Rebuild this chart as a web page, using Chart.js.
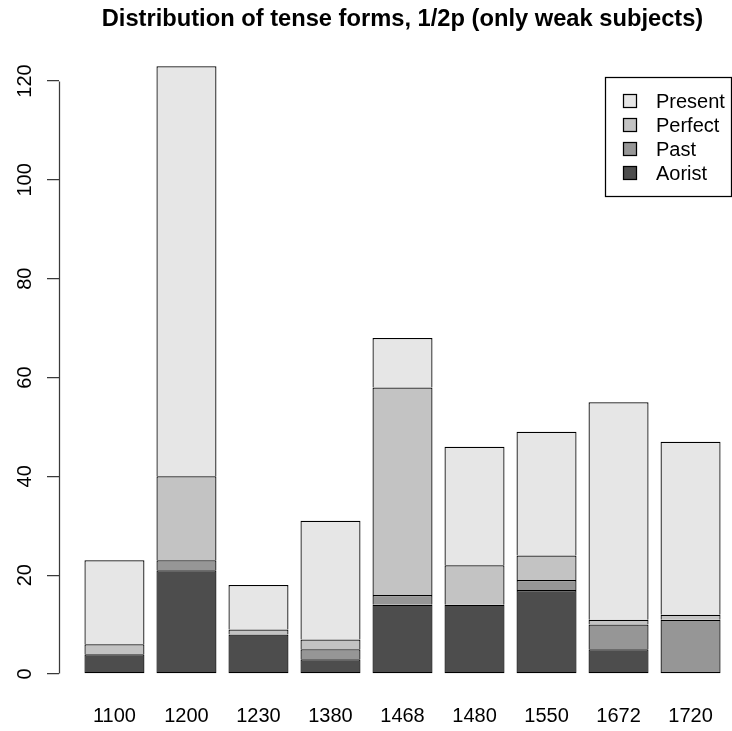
<!DOCTYPE html>
<html>
<head>
<meta charset="utf-8">
<script src="https://cdn.jsdelivr.net/npm/chart.js@4/dist/chart.umd.min.js"></script>
<style>
  html, body { margin: 0; padding: 0; background: #fff; overflow: hidden; }
  #wrap { width: 732px; height: 731px; overflow: hidden; position: relative; }
  #chart { position: absolute; left: 0; top: 0; }
</style>
</head>
<body>
<div id="wrap"><canvas id="chart" width="746" height="731"></canvas></div>
<script>
// Tense counts per period, stacked from the bottom up
const years   = ['1100', '1200', '1230', '1380', '1468', '1480', '1550', '1672', '1720'];
const aorist  = [4, 21, 8, 3, 14, 14, 17, 5, 0];
const past    = [0, 2, 0, 2, 2, 0, 2, 5, 11];
const perfect = [2, 17, 1, 2, 42, 8, 5, 1, 1];
const present = [17, 83, 9, 24, 10, 24, 25, 44, 35];

const seriesNames  = ['Aorist', 'Past', 'Perfect', 'Present'];
const seriesValues = [aorist, past, perfect, present];
const seriesColors = ['#4D4D4D', '#969696', '#C3C3C3', '#E6E6E6'];
const yTicks = [0, 20, 40, 60, 80, 100, 120];
const titleText = 'Distribution of tense forms, 1/2p (only weak subjects)';

const FONT = '"Liberation Sans", Arial, Helvetica, sans-serif';
const AXIS_COLOR = '#3a3a3a';
const LINE_W = 1.25;

// barplot-style geometry: unit-wide bars with a 0.2 gap before each one,
// and the usual 4% padding on both axes
const BAR_W = 1, BAR_SPACE = 0.2, SLOT = BAR_W + BAR_SPACE;
const centers = years.map((_, i) => BAR_SPACE + i * SLOT + BAR_W / 2);
const xSpan = years.length * SLOT - BAR_SPACE;
const xLo = BAR_SPACE - 0.04 * xSpan;
const xHi = BAR_SPACE + xSpan + 0.04 * xSpan;
const totals = years.map((_, i) => seriesValues.reduce((s, arr) => s + arr[i], 0));
const yMaxData = Math.max(...totals);
const yLo = -0.04 * yMaxData;
const yHi = yMaxData * 1.04;

const datasets = seriesNames.map((name, k) => ({
  label: name,
  data: centers.map((cx, i) => ({ x: cx, y: seriesValues[k][i] })),
  backgroundColor: seriesColors[k],
  borderColor: '#000',
  borderWidth: LINE_W,
  // the lowest visible block of each bar keeps its bottom edge
  borderSkipped: (c) => {
    let below = 0;
    for (let j = 0; j < c.datasetIndex; j++) below += seriesValues[j][c.dataIndex];
    return below === 0 ? false : 'start';
  },
  barPercentage: BAR_W / SLOT,
  categoryPercentage: 1
}));

function alignPx(p) { return Math.round(p - 0.5) + 0.5; }

const basePlot = {
  id: 'basePlot',
  afterDraw(chart) {
    const { ctx } = chart;
    const xs = chart.scales.x, ys = chart.scales.y;
    ctx.save();

    // y axis line over the tick range
    const ax = Math.round(ys.right) + 0.5;
    ctx.strokeStyle = AXIS_COLOR;
    ctx.lineWidth = LINE_W;
    ctx.beginPath();
    ctx.moveTo(ax, alignPx(ys.getPixelForValue(yTicks[0])));
    ctx.lineTo(ax, alignPx(ys.getPixelForValue(yTicks[yTicks.length - 1])));
    ctx.stroke();

    // y tick labels, parallel to the axis
    ctx.fillStyle = '#000';
    ctx.font = '20px ' + FONT;
    ctx.textAlign = 'center';
    ctx.textBaseline = 'alphabetic';
    yTicks.forEach(v => {
      ctx.save();
      ctx.translate(31, ys.getPixelForValue(v));
      ctx.rotate(-Math.PI / 2);
      ctx.fillText(String(v), 0, 0);
      ctx.restore();
    });

    // title centred over the plot region
    ctx.font = 'bold 23.7px ' + FONT;
    ctx.textAlign = 'center';
    ctx.fillText(titleText, xs.getPixelForValue((xLo + xHi) / 2), 26);

    // legend box, top series first
    const boxL = 605.5, boxT = 77.5, boxB = 196.5, boxR = 731.5;
    ctx.lineWidth = LINE_W;
    ctx.fillStyle = '#fff';
    ctx.fillRect(boxL, boxT, boxR - boxL, boxB - boxT);
    ctx.strokeStyle = '#000';
    ctx.strokeRect(boxL, boxT, boxR - boxL, boxB - boxT);
    ctx.font = '20px ' + FONT;
    ctx.textAlign = 'left';
    const order = chart.data.datasets.slice().reverse();
    order.forEach((ds, r) => {
      const cy = 101 + r * 24;
      ctx.fillStyle = ds.backgroundColor;
      ctx.fillRect(623.5, cy - 6.5, 13, 13);
      ctx.strokeStyle = '#000';
      ctx.strokeRect(623.5, cy - 6.5, 13, 13);
      ctx.fillStyle = '#000';
      ctx.fillText(ds.label, 656, cy + 7);
    });

    ctx.restore();
  }
};

new Chart(document.getElementById('chart').getContext('2d'), {
  type: 'bar',
  data: { datasets },
  options: {
    responsive: false,
    animation: false,
    devicePixelRatio: 1,
    layout: { padding: { top: 41.9, right: 0, left: 0, bottom: 0 } },
    plugins: {
      legend: { display: false },
      tooltip: { enabled: false },
      title: { display: false }
    },
    scales: {
      x: {
        type: 'linear',
        stacked: true,
        offset: false,
        min: xLo,
        max: xHi,
        grid: { display: false, drawTicks: false, offset: false },
        border: { display: false },
        afterBuildTicks: (s) => { s.ticks = centers.map(v => ({ value: v })); },
        afterFit: (s) => {
          s.height = 32.7;
          s.paddingLeft = 0;
          s.paddingRight = 0;
        },
        ticks: {
          autoSkip: false,
          maxRotation: 0,
          minRotation: 0,
          padding: 6,
          color: '#000',
          font: { family: FONT, size: 20 },
          callback: (v, i) => years[i]
        }
      },
      y: {
        type: 'linear',
        stacked: true,
        min: yLo,
        max: yHi,
        afterBuildTicks: (s) => { s.ticks = yTicks.map(v => ({ value: v })); },
        afterFit: (s) => {
          s.width = 59;
          s.paddingTop = 0;
          s.paddingBottom = 0;
        },
        grid: { drawOnChartArea: false, drawTicks: true, tickLength: 12, color: AXIS_COLOR, lineWidth: LINE_W },
        border: { display: false },
        ticks: { display: false }
      }
    }
  },
  plugins: [basePlot]
});
</script>
</body>
</html>
